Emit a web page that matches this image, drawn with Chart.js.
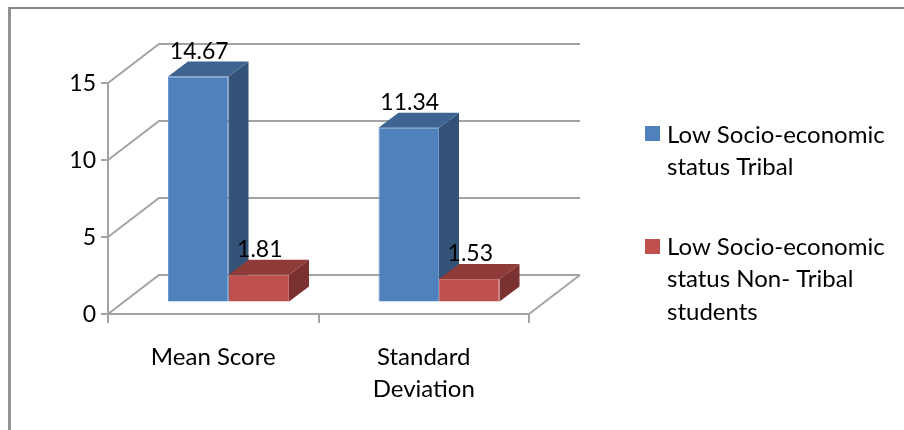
<!DOCTYPE html>
<html>
<head>
<meta charset="utf-8">
<style>
    html, body { margin: 0; background: #fff; overflow: hidden; }
    #frame { position: absolute; left: 8px; top: 7px; right: 0; bottom: 0; border-top: 2px solid #868686; border-left: 3px solid #929292; }
    canvas { position: absolute; left: 0; top: 0; }
</style>
<script src="https://cdn.jsdelivr.net/npm/chart.js@4"></script>
</head>
<body>
<div id="frame"></div>
<canvas id="chart" width="904" height="430"></canvas>
<script>
const categories = [['Mean Score'], ['Standard', 'Deviation']];
const seriesNames = ['Low Socio-economic status Tribal', 'Low Socio-economic status Non- Tribal students'];
const tribal = [14.67, 11.34];
const nonTribal = [1.81, 1.53];
const yTicks = [0, 5, 10, 15];
const legendLines = [['Low Socio-economic', 'status Tribal'], ['Low Socio-economic', 'status Non- Tribal', 'students']];

const FONT = 'Lato, Carlito, sans-serif';
const GRID = '#a3a3a3';

// Fake 3D: floor depth, how far the bars sit inside it, and the bar's own depth.
const wall = { dx: 51, dy: -39 };
const barShift = { dx: 15.25, dy: -11.5 };
const barDepth = { dx: 20, dy: -15 };

const faces = [
    { front: '#4f81bd', edge: '#7099cc', top: '#3e6492', side: '#325277' },
    { front: '#c0504d', edge: '#c96f6c', top: '#8f3b39', side: '#7a312f' },
];

function poly(ctx, pts, fill) {
    ctx.beginPath();
    pts.forEach(([x, y], i) => (i ? ctx.lineTo(x, y) : ctx.moveTo(x, y)));
    ctx.closePath();
    ctx.fillStyle = fill;
    ctx.fill();
}

function drawWalls(chart) {
    const { ctx, chartArea: { left, right, bottom }, scales: { y } } = chart;
    ctx.strokeStyle = GRID;
    ctx.lineWidth = 2;
    ctx.beginPath();
    yTicks.forEach((v) => {
        const py = y.getPixelForValue(v);
        ctx.moveTo(left, py);
        ctx.lineTo(left + wall.dx, py + wall.dy);
        ctx.lineTo(right + wall.dx, py + wall.dy);
    });
    ctx.moveTo(right, bottom);
    ctx.lineTo(right + wall.dx, bottom + wall.dy);
    ctx.stroke();
}

const bars3d = {
    id: 'bars3d',
    beforeDatasetsDraw(chart) {
        const { ctx } = chart;
        drawWalls(chart);
        ctx.save();
        ctx.translate(barShift.dx, barShift.dy);
        chart.data.datasets.forEach((ds, d) => {
            chart.getDatasetMeta(d).data.forEach((bar) => {
                const l = bar.x - bar.width / 2;
                const r = bar.x + bar.width / 2;
                const { dx, dy } = barDepth;
                poly(ctx, [[r, bar.y], [r + dx, bar.y + dy], [r + dx, bar.base + dy], [r, bar.base]], faces[d].side);
                poly(ctx, [[l, bar.y], [l + dx, bar.y + dy], [r + dx, bar.y + dy], [r, bar.y]], faces[d].top);
            });
        });
    },
    afterDatasetsDraw(chart) {
        const { ctx } = chart;
        ctx.restore();
        ctx.fillStyle = '#000';
        ctx.font = `23px ${FONT}`;
        ctx.textAlign = 'center';
        ctx.textBaseline = 'middle';
        chart.data.datasets.forEach((ds, d) => {
            chart.getDatasetMeta(d).data.forEach((bar, i) => {
                ctx.fillText(ds.data[i].toFixed(2), bar.x + barShift.dx + 1, bar.y + barShift.dy - 25);
            });
        });
    },
};

// Legend entries wrap over several lines, which the stock legend can't lay out.
const sideLegend = {
    id: 'sideLegend',
    afterDraw(chart) {
        const { ctx } = chart;
        const rows = [{ box: 126, lines: [135, 167] }, { box: 239, lines: [247, 279, 312] }];
        ctx.font = `24px ${FONT}`;
        ctx.textAlign = 'left';
        ctx.textBaseline = 'middle';
        rows.forEach((row, d) => {
            ctx.fillStyle = faces[d].front;
            ctx.fillRect(645, row.box, 15, 15);
            ctx.fillStyle = '#000';
            legendLines[d].forEach((t, i) => ctx.fillText(t, 667, row.lines[i]));
        });
    },
};

new Chart(document.getElementById('chart'), {
    type: 'bar',
    data: {
        labels: categories,
        datasets: [tribal, nonTribal].map((data, d) => ({
            label: seriesNames[d],
            data,
            backgroundColor: faces[d].front,
            borderColor: faces[d].edge,
            borderWidth: 1,
            categoryPercentage: 0.575,
            barPercentage: 1,
            clip: false,
        })),
    },
    options: {
        responsive: false,
        animation: false,
        layout: { padding: { top: 83, right: 375, left: 0, bottom: 0 } },
        plugins: { legend: { display: false }, tooltip: { enabled: false } },
        scales: {
            x: {
                afterFit: (s) => { s.height = 116; },
                border: { color: GRID, width: 2 },
                grid: { drawOnChartArea: false, color: GRID, lineWidth: 2, tickLength: 9 },
                ticks: { color: '#000', font: { family: FONT, size: 24, lineHeight: 1.3 }, padding: 19, maxRotation: 0, autoSkip: false },
            },
            y: {
                min: 0,
                max: 15,
                afterFit: (s) => { s.width = 108; },
                afterBuildTicks: (s) => { s.ticks = yTicks.map((value) => ({ value })); },
                border: { color: GRID, width: 2 },
                grid: { drawOnChartArea: false, color: GRID, lineWidth: 2, tickLength: 7 },
                ticks: { color: '#000', font: { family: FONT, size: 23 }, padding: 5, labelOffset: 1 },
            },
        },
    },
    plugins: [bars3d, sideLegend],
});
</script>
</body>
</html>
